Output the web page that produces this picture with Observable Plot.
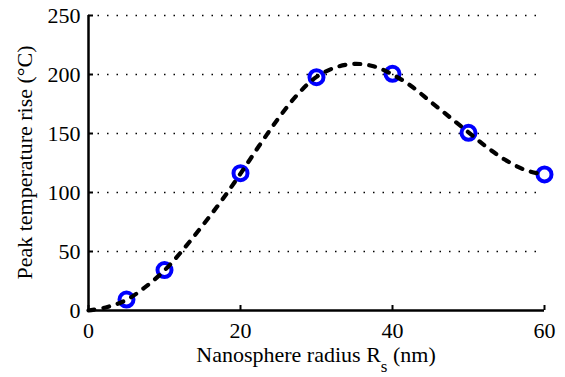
<!DOCTYPE html>
<html>
<head>
<meta charset="utf-8">
<script src="https://cdn.jsdelivr.net/npm/d3@7"></script>
<script src="https://cdn.jsdelivr.net/npm/@observablehq/plot@0.6"></script>
<style>
  html, body { margin: 0; padding: 0; background: #fff; }
  #chart svg { display: block; }
</style>
</head>
<body>
<div id="chart"></div>
<script>
// Simulated samples (blue circles)
const radii = [5, 10, 20, 30, 40, 50, 60];
const peakRise = [9.3, 34.3, 116.4, 197.7, 200.6, 150.6, 115.3];

// Fitted curve (dashed)
const curveX = [0, 2.5, 5, 7.5, 10, 12.5, 15, 17.5, 20, 22.5, 25, 27.5, 30, 32.5, 35, 37.5, 40, 42.5, 45, 47.5, 50, 52.5, 55, 57.5, 60];
const curveY = [0, 3, 9, 20, 34, 52, 72, 93, 116, 140, 163, 183, 198, 206, 209, 207, 200, 190, 177, 164, 151, 138, 127, 119, 115];

// Axis ticks
const xTicks = [0, 20, 40, 60];
const yTicks = [0, 50, 100, 150, 200, 250];
const gridTicks = [50, 100, 150, 200, 250];

const yLabel = "Peak temperature rise (°C)";
const xLabelMain = "Nanosphere radius R";
const xLabelSub = "s";
const xLabelTail = " (nm)";

const points = radii.map((r, i) => ({r, t: peakRise[i]}));
const curve = curveX.map((x, i) => ({x, y: curveY[i]}));

const font = "'Liberation Serif', 'Times New Roman', serif";

const plot = Plot.plot({
  width: 565,
  height: 377,
  marginLeft: 88,
  marginRight: 21,
  marginTop: 15,
  marginBottom: 67,
  style: {fontFamily: font, fontSize: "22px", color: "black", background: "white"},
  x: {domain: [0, 60]},
  y: {domain: [0, 250]},
  marks: [
    Plot.gridY(gridTicks, {stroke: "black", strokeOpacity: 1, strokeWidth: 1.4, strokeDasharray: "1.5,8"}),
    // labels
    Plot.axisX(xTicks, {tickSize: 0, tickPadding: 12, fontSize: 22, label: null}),
    Plot.axisY(yTicks, {tickSize: 0, tickPadding: 8, fontSize: 22, label: null}),
    // inward ticks
    Plot.axisX(xTicks, {tickSize: -5, strokeWidth: 2, tickFormat: () => "", label: null}),
    Plot.axisY(yTicks, {tickSize: -5, strokeWidth: 2, tickFormat: () => "", label: null}),
    Plot.ruleX([0], {y1: 0, y2: 250, stroke: "black", strokeWidth: 2.5}),
    Plot.ruleY([0], {x1: 0, x2: 60, stroke: "black", strokeWidth: 2.5}),
    Plot.dot(points, {x: "r", y: "t", r: 7, stroke: "#0000ff", strokeWidth: 4, fill: "none"}),
    Plot.line(curve, {x: "x", y: "y", curve: "catmull-rom", stroke: "black", strokeWidth: 4.2, strokeDasharray: "6,9"})
  ]
});

document.getElementById("chart").appendChild(plot);

// Axis titles with subscript
const svg = d3.select(plot);
const xs = plot.scale("x"), ys = plot.scale("y");
const xMid = (xs.range[0] + xs.range[1]) / 2;
const yMid = (ys.range[0] + ys.range[1]) / 2;

const xt = svg.append("text")
  .attr("x", xMid)
  .attr("y", 362)
  .attr("text-anchor", "middle")
  .style("font-family", font)
  .style("font-size", "22px")
  .attr("fill", "black");
xt.append("tspan").text(xLabelMain);
xt.append("tspan").attr("dy", 10).style("font-size", "17px").text(xLabelSub);
xt.append("tspan").attr("dy", -10).text(xLabelTail);

svg.append("text")
  .attr("transform", `translate(32,${yMid}) rotate(-90)`)
  .attr("text-anchor", "middle")
  .style("font-family", font)
  .style("font-size", "22px")
  .attr("fill", "black")
  .text(yLabel);
</script>
</body>
</html>
